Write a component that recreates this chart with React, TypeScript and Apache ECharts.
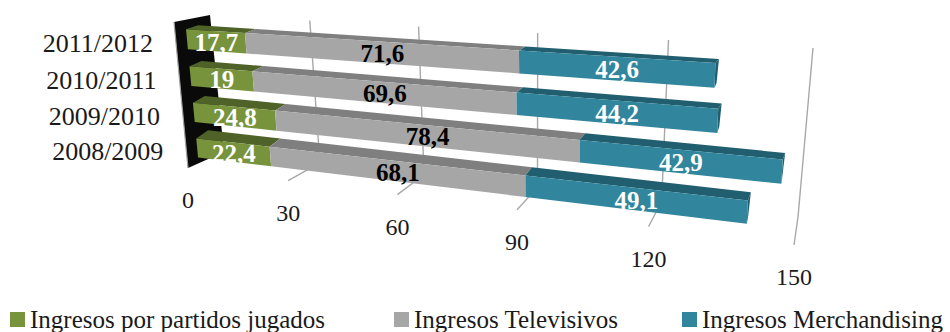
import React, { useEffect, useRef } from "react";
import * as echarts from "echarts";

const categories = ["2011/2012", "2010/2011", "2009/2010", "2008/2009"];
const partidos = [17.7, 19, 24.8, 22.4];
const televisivos = [71.6, 69.6, 78.4, 68.1];
const merchandising = [42.6, 44.2, 42.9, 49.1];
const ticks = [0, 30, 60, 90, 120, 150];
const seriesNames = ["Ingresos por partidos jugados", "Ingresos Televisivos", "Ingresos Merchandising"];
const frontColors = ["#77933C", "#A6A6A6", "#31859C"];
const topColors = ["#4F6228", "#7F7F7F", "#215F70"];
const labelColors = ["#ffffff", "#000000", "#ffffff"];
const legendLefts = [10, 394, 682];
const FONT = "'Liberation Serif', serif";

type P = [number, number];
function homography(q: P[]) {
  const [[x0, y0], [x1, y1], [x2, y2], [x3, y3]] = q;
  const dx1 = x1 - x2, dx2 = x3 - x2, sx = x0 - x1 + x2 - x3;
  const dy1 = y1 - y2, dy2 = y3 - y2, sy = y0 - y1 + y2 - y3;
  const den = dx1 * dy2 - dx2 * dy1;
  const g = (sx * dy2 - dx2 * sy) / den;
  const h = (dx1 * sy - sx * dy1) / den;
  const a = x1 - x0 + g * x1, b = x3 - x0 + h * x3, d = y1 - y0 + g * y1, e = y3 - y0 + h * y3;
  return (u: number, v: number): P => {
    const w = g * u + h * v + 1;
    return [(a * u + b * v + x0) / w, (d * u + e * v + y0) / w];
  };
}

// Perspective planes: the flat grid is projected onto these quads (TL, TR, BR, BL)
const barPlane = homography([[185.2, 20.5], [809, 58], [798, 240], [198.8, 165.5]]);
const wallPlane = homography([[210, 15], [813, 48], [798, 217], [224, 152]]);
const floorFront = homography([[188, 31], [794, 72], [794, 245], [188, 168]]);
const wallPoly: P[] = [[174, 22], [210, 15], [224, 152], [188, 168]];

const GRID = { left: 200, top: 40, width: 600, height: 200 };

function norm(params: any, px: number[]) {
  const c = params.coordSys;
  return [(px[0] - c.x) / c.width, (px[1] - c.y) / c.height];
}
function depth(p: P, v: number): P {
  return [p[0] + 12 - (8.5 * (p[0] - 186)) / 531, p[1] - (3.6 + 5.5 * v)];
}

function barRender(seriesIdx: number) {
  return (params: any, api: any) => {
    const start = api.value(0), end = api.value(1), cat = api.value(2), val = api.value(3);
    const band = api.size([0, 1])[1];
    const half = band * 0.27;
    const a = api.coord([start, cat]);
    const b = api.coord([end, cat]);
    const [u0, vm] = norm(params, a);
    const [u1] = norm(params, b);
    const dv = half / params.coordSys.height;
    const vt = vm - dv, vb = vm + dv;
    const tl = barPlane(u0, vt), tr = barPlane(u1, vt), br = barPlane(u1, vb), bl = barPlane(u0, vb);
    const tlb = depth(tl, vt), trb = depth(tr, vt), brb = depth(br, vb);
    const children: any[] = [
      { type: "polygon", shape: { points: [tl, tr, trb, tlb] }, style: { fill: topColors[seriesIdx] } },
    ];
    if (seriesIdx === 2) {
      children.push({ type: "polygon", shape: { points: [tr, trb, [brb[0] - 1.5, brb[1]], br] }, style: { fill: topColors[seriesIdx] } });
    }
    children.push({ type: "polygon", shape: { points: [tl, tr, br, bl] }, style: { fill: frontColors[seriesIdx] } });
    children.push({
      type: "text",
      z2: 10,
      style: {
        x: (tl[0] + tr[0] + br[0] + bl[0]) / 4,
        y: (tl[1] + tr[1] + br[1] + bl[1]) / 4 + 1,
        text: String(val).replace(".", ","),
        fill: labelColors[seriesIdx],
        fontFamily: FONT,
        fontWeight: "bold",
        fontSize: 25,
        textAlign: "center",
        textVerticalAlign: "middle",
      },
    });
    return { type: "group", children };
  };
}

function axisRender(params: any, api: any) {
  const t = api.value(0);
  const [u] = norm(params, api.coord([t, 0]));
  const children: any[] = [];
  const line = { stroke: "#A8A8A8", lineWidth: 1.4, fill: "none" };
  const f = floorFront(u, 1);
  if (t > 0) {
    const a = wallPlane(u, 0), b = wallPlane(u, 1);
    children.push({ type: "polyline", shape: { points: [a, b, f] }, style: line });
  }
  children.push({
    type: "text",
    style: {
      x: f[0],
      y: f[1] + 32,
      text: String(t),
      fill: "#1a1a1a",
      fontFamily: FONT,
      fontSize: 24,
      textAlign: "center",
      textVerticalAlign: "middle",
    },
  });
  return { type: "group", children };
}

function catRender(params: any, api: any) {
  const cat = api.value(0);
  const px = api.coord([0, cat]);
  const [, v] = norm(params, px);
  const p = barPlane(0, v);
  const lx = 174 + ((p[1] + 3 - 22) / 146) * 14;
  return {
    type: "text",
    style: {
      x: lx - 23,
      y: p[1] + 4,
      text: categories[cat],
      fill: "#1a1a1a",
      fontFamily: FONT,
      fontSize: 26,
      textAlign: "right",
      textVerticalAlign: "middle",
    },
  };
}

function wallRender() {
  return {
    type: "group",
    children: [
      { type: "polygon", shape: { points: wallPoly }, style: { fill: "#0A0A0A" } },
      { type: "line", shape: { x1: 174, y1: 22, x2: 188, y2: 168 }, style: { stroke: "#A0A0A0", lineWidth: 1.2 } },
    ],
  };
}

export default function App() {
  const ref = useRef<HTMLDivElement>(null);
  useEffect(() => {
    const chart = echarts.init(ref.current!, undefined, { renderer: "svg" });
    const stacks = [partidos, televisivos, merchandising];
    const barSeries = stacks.map((vals, si) => ({
      type: "custom",
      name: seriesNames[si],
      coordinateSystem: "cartesian2d",
      renderItem: barRender(si),
      clip: false,
      itemStyle: { color: frontColors[si] },
      encode: { x: [0, 1], y: 2 },
      data: vals.map((v, i) => {
        let s = 0;
        for (let k = 0; k < si; k++) s += stacks[k][i];
        return [s, s + v, i, v];
      }),
      z: 5 + si,
    }));
    chart.setOption({
      animation: false,
      backgroundColor: "#ffffff",
      grid: GRID,
      xAxis: { type: "value", min: 0, max: 150, interval: 30, show: false },
      yAxis: { type: "category", data: categories, inverse: true, show: false },
      legend: seriesNames.map((name, i) => ({
        data: [{ name, icon: "rect" }],
        left: legendLefts[i],
        top: 307,
        padding: 0,
        itemWidth: 15,
        itemHeight: 15,
        textStyle: { fontFamily: FONT, fontSize: 25, color: "#1a1a1a" },
        selectedMode: false,
      })),
      series: [
        { type: "custom", coordinateSystem: "cartesian2d", renderItem: wallRender, clip: false, silent: true, data: [[0, 0]], encode: { x: 0, y: 1 }, z: 1 },
        { type: "custom", coordinateSystem: "cartesian2d", renderItem: axisRender, clip: false, silent: true, data: ticks.map((t) => [t, 0]), encode: { x: 0, y: 1 }, z: 2 },
        { type: "custom", coordinateSystem: "cartesian2d", renderItem: catRender, clip: false, silent: true, data: categories.map((_, i) => [i]), encode: { x: 1, y: 0 }, z: 2 },
        ...barSeries,
      ],
    });
    return () => chart.dispose();
  }, []);
  return <div ref={ref} style={{ position: "fixed", left: 0, top: 0, width: 950, height: 332, background: "#fff" }} />;
}
